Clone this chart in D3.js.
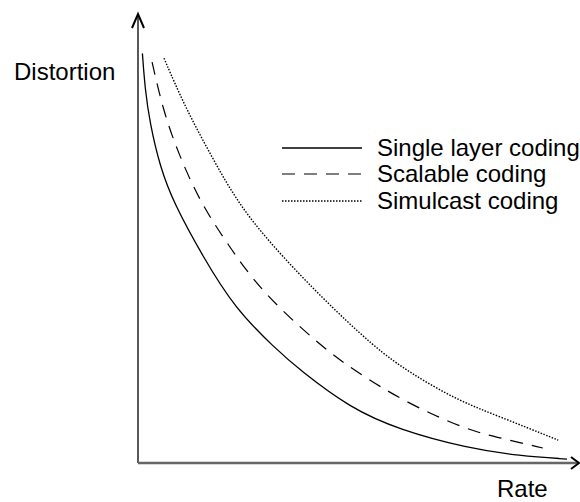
<!DOCTYPE html>
<html>

<head>
    <script src="https://d3js.org/d3.v7.min.js"></script>
    <style>
        body { margin: 0; background: #fff; }
        text { font-family: "Liberation Sans", Arial, sans-serif; font-size: 24px; fill: #000; }
    </style>
</head>

<body>
    <div id="svg"></div>
    <script>
        // curves (rate, distortion), both on a 0..100 scale
        var singleRate = [1.0, 1.6, 2.7, 5.0, 8.2, 14.8, 22.0, 31.1, 36.8, 48.2, 59.5, 74.8, 86.8, 97.5]
        var singleDist = [93.1, 85.0, 77.3, 67.3, 58.9, 46.8, 35.2, 26.1, 21.1, 12.5, 7.5, 3.4, 1.6, 0.9]

        var scalableRate = [3.2, 5.7, 9.1, 14.1, 20.2, 27.7, 40.7, 48.9, 61.1, 74.8, 82.3, 92.0]
        var scalableDist = [91.1, 80.2, 70.5, 59.3, 50.0, 39.3, 27.3, 21.1, 13.6, 7.5, 5.7, 3.4]

        var simulRate = [5.9, 10.7, 16.8, 22.7, 30.0, 40.7, 53.9, 61.8, 72.5, 82.3, 95.5]
        var simulDist = [92.0, 80.9, 69.5, 59.1, 50.0, 38.6, 26.1, 20.5, 14.3, 10.5, 5.2]

        var seriesNames = ["Single layer coding", "Scalable coding", "Simulcast coding"]

        var width = 580, height = 502

        var svg = d3.select("#svg")
            .append("svg")
            .attr("width", width)
            .attr("height", height)

        var x = d3.scaleLinear().domain([0, 100]).range([138, 578])
        var y = d3.scaleLinear().domain([0, 100]).range([463, 23])

        var series = [
            { name: seriesNames[0], rate: singleRate, dist: singleDist, dash: null, w: 1.3 },
            { name: seriesNames[1], rate: scalableRate, dist: scalableDist, dash: "13,9", w: 1.2 },
            { name: seriesNames[2], rate: simulRate, dist: simulDist, dash: "1.5,1.5", w: 1.4 }
        ]

        var line = d3.line()
            .x(function (d) { return x(d[0]) })
            .y(function (d) { return y(d[1]) })
            .curve(d3.curveBasis)

        series.forEach(function (s) {
            var pts = s.rate.map(function (r, i) { return [r, s.dist[i]] })
            svg.append("path")
                .attr("d", line(pts))
                .attr("fill", "none")
                .attr("stroke", "#000")
                .attr("stroke-width", s.w)
                .attr("stroke-dasharray", s.dash)
        })

        // axes
        svg.append("line")
            .attr("x1", x(0)).attr("y1", y(0))
            .attr("x2", x(0)).attr("y2", 14)
            .attr("stroke", "#222").attr("stroke-width", 1.5)
        svg.append("path")
            .attr("d", "M" + (x(0) - 6) + ",28L" + x(0) + ",14L" + (x(0) + 6) + ",28")
            .attr("fill", "none").attr("stroke", "#000").attr("stroke-width", 2)

        svg.append("line")
            .attr("x1", x(0)).attr("y1", y(0))
            .attr("x2", 579).attr("y2", y(0))
            .attr("stroke", "#666").attr("stroke-width", 2.5)
        svg.append("path")
            .attr("d", "M571," + (y(0) - 6) + "L579," + y(0) + "L571," + (y(0) + 6))
            .attr("fill", "none").attr("stroke", "#000").attr("stroke-width", 2)

        svg.append("text").attr("x", 14).attr("y", 80).text("Distortion")
        svg.append("text").attr("x", 497).attr("y", 497).text("Rate")

        // legend
        var legendY = [148, 174, 201]
        series.forEach(function (s, i) {
            svg.append("line")
                .attr("x1", 282).attr("x2", 362)
                .attr("y1", legendY[i]).attr("y2", legendY[i])
                .attr("stroke", "#000")
                .attr("stroke-width", s.w)
                .attr("stroke-dasharray", s.dash)
            svg.append("text")
                .attr("x", 377).attr("y", legendY[i] + 8)
                .text(s.name)
        })
    </script>

</body>

</html>
